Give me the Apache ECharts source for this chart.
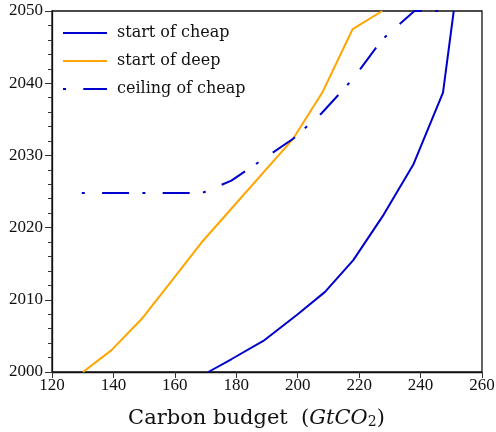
<!DOCTYPE html>
<html>
<head>
<meta charset="utf-8">
<script src="https://cdn.jsdelivr.net/npm/echarts@6/dist/echarts.min.js"></script>
<style>html,body{margin:0;padding:0;background:#fff}#c{width:496px;height:432px}</style>
</head>
<body>
<div id="c"></div>
<script>
// Data
const seriesNames = ['start of cheap', 'start of deep', 'ceiling of cheap'];
const cheapStartBudget = [170.9, 178.5, 188.8, 199.7, 208.9, 218.1, 228.0, 237.6, 247.3, 250.8];
const cheapStartYear   = [2000, 2001.8, 2004.3, 2007.9, 2011.1, 2015.5, 2021.8, 2028.7, 2038.7, 2050];
const deepStartBudget  = [130.1, 139.3, 149.1, 158.9, 168.6, 198.5, 208.0, 217.9, 227.5];
const deepStartYear    = [2000, 2003.0, 2007.3, 2012.6, 2017.9, 2032.3, 2038.7, 2047.5, 2050];
const cheapCeilBudget  = [129.7, 168.9, 178.4, 198.5, 207.7, 218.0, 227.6, 238.0, 250.8];
const cheapCeilYear    = [2024.8, 2024.8, 2026.5, 2032.3, 2035.8, 2040.6, 2046.1, 2050, 2050];
const xTicks = [120, 140, 160, 180, 200, 220, 240, 260];
const yTicks = [2000, 2010, 2020, 2030, 2040, 2050];

const pairs = (xs, ys) => xs.map((x, i) => [x, ys[i]]);
const BLUE = '#0000cd', ORANGE = '#ffa500';
const numFont = 'Liberation Serif';
const txtFont = 'DejaVu Serif';

const chart = echarts.init(document.getElementById('c'), null, {renderer: 'canvas'});
chart.setOption({
  animation: false,
  backgroundColor: '#fff',
  grid: {left: 52, right: 14, top: 11, bottom: 60, containLabel: false, outerBoundsMode: 'none',
         show: true, borderColor: '#111', borderWidth: 1.3, backgroundColor: 'transparent'},
  legend: {
    orient: 'vertical', left: 62, top: 25, padding: 0,
    itemWidth: 44, itemHeight: 20, itemGap: 12,
    itemStyle: {opacity: 0},
    textStyle: {fontFamily: txtFont, fontSize: 16, color: '#111', padding: [0, 0, 0, 5]},
    data: seriesNames
  },
  xAxis: {
    type: 'value', min: xTicks[0], max: xTicks[xTicks.length - 1], interval: 20,
    splitLine: {show: false},
    axisLine: {lineStyle: {color: '#111', width: 1.3}},
    axisTick: {length: 6, lineStyle: {color: '#333'}},
    axisLabel: {fontFamily: numFont, fontSize: 17, color: '#111', margin: 5},
    name: '',
    nameLocation: 'middle', nameGap: 36,
    nameTextStyle: {
      fontFamily: txtFont, fontSize: 21, color: '#111', padding: [0, 21, 0, 0],
      rich: {
        n: {fontFamily: txtFont, fontSize: 21, color: '#111'},
        i: {fontFamily: txtFont, fontSize: 21, fontStyle: 'italic', color: '#111'},
        s: {fontFamily: txtFont, fontSize: 14, color: '#111', verticalAlign: 'bottom', padding: [6, 0, 0, 0]}
      }
    }
  },
  yAxis: {
    type: 'value', min: yTicks[0], max: yTicks[yTicks.length - 1], interval: 10,
    splitLine: {show: false},
    axisLine: {show: true, lineStyle: {color: '#111', width: 1.3}},
    axisTick: {show: true, length: 7, lineStyle: {color: '#333'}},
    minorTick: {show: true, splitNumber: 5, length: 4, lineStyle: {color: '#333'}},
    axisLabel: {fontFamily: numFont, fontSize: 17, color: '#111', margin: 9, formatter: v => String(v)}
  },
  series: [
    {name: seriesNames[0], type: 'line', symbol: 'none', data: pairs(cheapStartBudget, cheapStartYear),
     lineStyle: {color: BLUE, width: 2}, itemStyle: {color: BLUE}},
    {name: seriesNames[1], type: 'line', symbol: 'none', data: pairs(deepStartBudget, deepStartYear),
     lineStyle: {color: ORANGE, width: 2}, itemStyle: {color: ORANGE}},
    {name: seriesNames[2], type: 'line', symbol: 'none', data: pairs(cheapCeilBudget, cheapCeilYear),
     lineStyle: {color: BLUE, width: 2, type: [27, 13.3, 3, 17.3], dashOffset: 40.3, cap: 'butt'}, itemStyle: {color: BLUE}}
  ]
});
chart.setOption({xAxis: {name: '{n|Carbon budget  (}{i|GtCO}{s|2}{n|)}'}});
</script>
</body>
</html>
